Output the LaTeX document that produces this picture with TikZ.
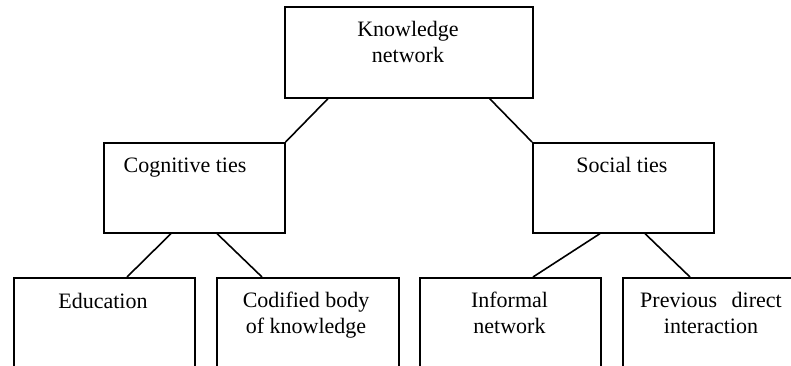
\documentclass[tikz,border=0pt]{standalone}
\usepackage{fontspec}
\setmainfont{Liberation Serif}
\usetikzlibrary{calc}
\begin{document}
\begin{tikzpicture}[x=1pt,y=-1pt,
  box/.style={draw=black,line width=1.6pt,rectangle,inner sep=0pt,anchor=north west},
  lbl/.style={inner sep=0pt,anchor=base,align=center,font=\fontsize{22}{26}\selectfont},
  link/.style={draw=black,line width=1.6pt}]
\useasboundingbox (0,0) rectangle (791,366);
\clip (0,0) rectangle (791,366);
\fill[white] (0,0) rectangle (791,366);
% boxes
\node[box,minimum width=248pt,minimum height=91pt] (kn)  at (284,6)   {};
\node[box,minimum width=181pt,minimum height=90pt] (cog) at (103,142) {};
\node[box,minimum width=181pt,minimum height=90pt] (soc) at (532,142) {};
\node[box,minimum width=181pt,minimum height=120pt] (edu) at (13,277)  {};
\node[box,minimum width=182pt,minimum height=120pt] (cod) at (216,277) {};
\node[box,minimum width=181pt,minimum height=120pt] (inf) at (419,277) {};
\node[box,minimum width=190pt,minimum height=120pt] (pre) at (622,277) {};
% texts (a multi-line node sits on the baseline of its last line)
\node[lbl] (tkn)  at (408,63)  {Knowledge\\network};
\node[lbl] (tcog) at (185,172) {Cognitive ties};
\node[lbl] (tsoc) at (622,172) {Social ties};
\node[lbl] (tedu) at (103,308) {Education};
\node[lbl] (tcod) at (306,333) {Codified body\\of knowledge};
\node[lbl] (tinf) at (509.5,333) {Informal\\network};
\node[lbl] (tpre) at (711,333) {Previous\hspace{14.5pt}direct\\interaction};
% connectors
\draw[link] ($(kn.south west)+(44,0)$) -- (cog.north east);
\draw[link] ($(kn.south east)+(-44,0)$) -- (soc.north west);
\draw[link] ($(cog.south west)+(68,0)$) -- ($(edu.north west)+(114,0)$);
\draw[link] ($(cog.south west)+(114,0)$) -- ($(cod.north west)+(46,0)$);
\draw[link] ($(soc.south west)+(68,0)$) -- ($(inf.north west)+(114,0)$);
\draw[link] ($(soc.south west)+(113,0)$) -- ($(pre.north west)+(68,0)$);
\end{tikzpicture}
\end{document}
